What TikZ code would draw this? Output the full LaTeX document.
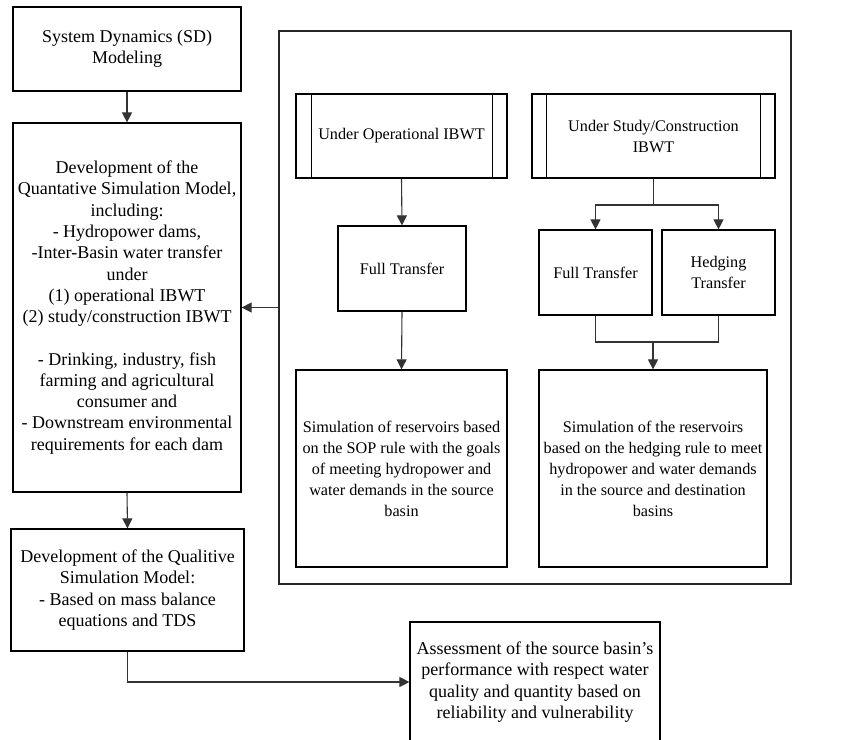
\documentclass[tikz,border=0pt]{standalone}
\usepackage{fontspec}
\setmainfont{Liberation Serif}
\usetikzlibrary{arrows.meta}
\begin{document}
\begin{tikzpicture}[x=1pt,y=-1pt,
  every node/.style={font=\fontsize{18}{21.3}\selectfont},
  box/.style={draw=black,line width=1.2pt,align=center,inner sep=0pt,fill=white},
  small/.style={font=\fontsize{16.2}{21}\selectfont},
  conn/.style={draw=black!80,line width=1.1pt},
  arr/.style={conn,-{Triangle[length=10pt,width=10pt]}}]
\useasboundingbox (0,0) rectangle (845,739);
% container
\node[draw=black!85,line width=1.4pt,minimum width=512pt,minimum height=553pt,inner sep=0pt] (cont) at (535,307.5) {};
% left column
\node[box,minimum width=228pt,minimum height=84pt] (sd) at (127,49) {System Dynamics (SD)\\Modeling};
\node[box,minimum width=228pt,minimum height=369pt] (quant) at (127,307.5) {Development of the\\Quantative Simulation Model,\\including:\\- Hydropower dams,\\-Inter-Basin water transfer\\under\\(1) operational IBWT\\(2) study/construction IBWT\\[21pt]- Drinking, industry, fish\\farming and agricultural\\consumer and\\- Downstream environmental\\requirements for each dam};
\node[box,minimum width=233pt,minimum height=122pt] (qual) at (127.5,590) {Development of the Qualitive\\Simulation Model:\\- Based on mass balance\\equations and TDS};
\node[box,minimum width=250pt,minimum height=120pt] (assess) at (535,682) {Assessment of the source basin’s\\performance with respect water\\quality and quantity based on\\reliability and vulnerability};
% right panel
\node[box,small,minimum width=211pt,minimum height=84pt] (op) at (401.5,136) {Under Operational IBWT};
\node[box,small,minimum width=243pt,minimum height=84pt] (study) at (653.5,136) {Under Study/Construction\\IBWT};
\draw[line width=1.2pt] ([xshift=16pt]op.north west) -- ([xshift=16pt]op.south west)
  ([xshift=-15pt]op.north east) -- ([xshift=-15pt]op.south east);
\draw[line width=1.2pt] ([xshift=15pt]study.north west) -- ([xshift=15pt]study.south west)
  ([xshift=-15pt]study.north east) -- ([xshift=-15pt]study.south east);
\node[box,small,minimum width=128pt,minimum height=85pt] (ft1) at (402,268.5) {Full Transfer};
\node[box,small,minimum width=113pt,minimum height=85pt] (ft2) at (595.5,272.5) {Full Transfer};
\node[box,small,minimum width=113pt,minimum height=85pt] (hedge) at (718.5,272.5) {Hedging\\Transfer};
\node[box,small,minimum width=211pt,minimum height=197pt] (sim1) at (401.5,468.5) {Simulation of reservoirs based\\on the SOP rule with the goals\\of meeting hydropower and\\water demands in the source\\basin};
\node[box,small,minimum width=228pt,minimum height=197pt] (sim2) at (653,468.5) {Simulation of the reservoirs\\based on the hedging rule to meet\\hydropower and water demands\\in the source and destination\\basins};
% connectors
\coordinate (split) at (653.5,205);
\coordinate (merge) at (653,342);
\draw[arr] (sd.south) -- (quant.north);
\draw[arr] (quant.south) -- (qual.north);
\draw[arr] (qual.south) |- (assess.west);
\draw[arr] (cont.west) -- (quant.east);
\draw[arr] (op.south) -- (ft1.north);
\draw[arr] (ft1.south) -- (sim1.north);
\draw[conn] (study.south) -- (split);
\draw[arr] (split) -| (ft2.north);
\draw[arr] (split) -| (hedge.north);
\draw[conn] (ft2.south) |- (merge) -| (hedge.south);
\draw[arr] (merge) -- (sim2.north);
\end{tikzpicture}
\end{document}
